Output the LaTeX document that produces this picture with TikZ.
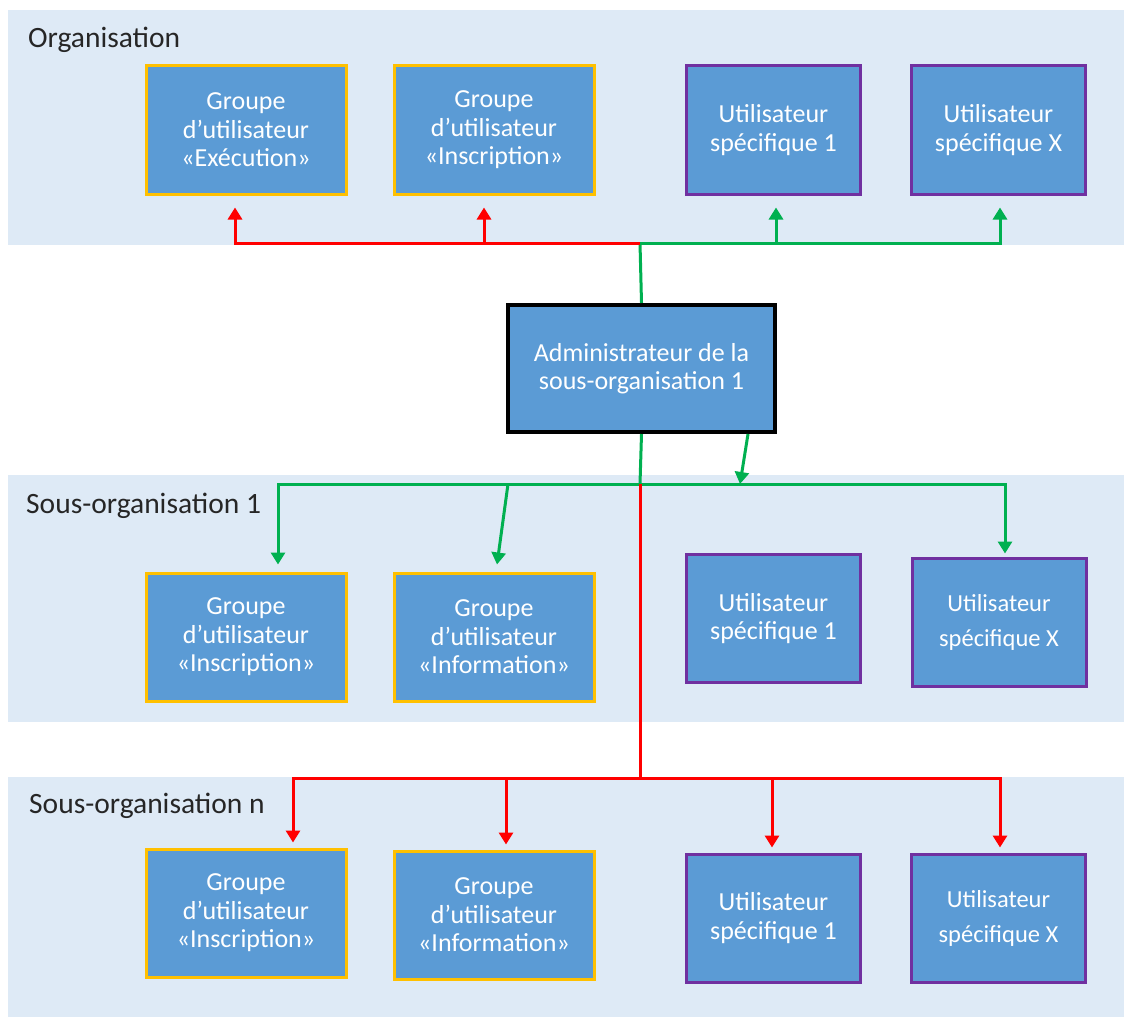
\documentclass[tikz,border=0pt]{standalone}
\usepackage{fontspec}
\setmainfont{Carlito}
\usetikzlibrary{arrows.meta}
\definecolor{panel}{HTML}{DEEAF6}
\definecolor{boxfill}{HTML}{5B9BD5}
\definecolor{ygold}{HTML}{FFC000}
\definecolor{purp}{HTML}{7030A0}
\definecolor{gcol}{HTML}{00B050}
\definecolor{rcol}{HTML}{FF0000}
\definecolor{labcol}{HTML}{262626}
\begin{document}
\begin{tikzpicture}[x=1pt,y=-1pt,
  bx/.style={draw, line width=3pt, fill=boxfill, text=white, align=center,
    font=\fontsize{26}{28.5}\selectfont, inner sep=0pt},
  grp/.style={bx, draw=ygold, minimum width=200pt, minimum height=128pt},
  usr/.style={bx, draw=purp, minimum width=174pt, minimum height=128pt},
  usrs/.style={usr, font=\fontsize{24.5}{35}\selectfont},
  adm/.style={bx, draw=black, line width=4pt, minimum width=267pt, minimum height=127pt},
  lab/.style={anchor=base west, text=labcol, font=\fontsize{29.5}{32}\selectfont, inner sep=0pt},
  gl/.style={draw=gcol, line width=3pt},
  rl/.style={draw=rcol, line width=3pt},
  garr/.style={gl, -{Triangle[width=14pt,length=12pt]}},
  rarr/.style={rl, -{Triangle[width=14pt,length=12pt]}}
]
\useasboundingbox (0,0) rectangle (1126,1019);
% panels
\fill[panel] (8,10) rectangle (1124,245);
\fill[panel] (8,475) rectangle (1124,722);
\fill[panel] (8,777) rectangle (1124,1017);
% labels
\node[lab] (l0) at (28,48) {Organisation};
\node[lab] (l1) at (26,513) {Sous-organisation 1};
\node[lab] (l2) at (29,813) {Sous-organisation n};
% top row
\node[grp] (e1) at (246,130) {Groupe\\d’utilisateur\\«Exécution»};
\node[grp] (i1) at (494,130) {Groupe\\d’utilisateur\\«Inscription»};
\node[usr] (u1) at (773.5,130) {Utilisateur\\spécifique 1};
\node[usr] (x1) at (998.5,130) {Utilisateur\\spécifique X};
% admin
\node[adm] (admin) at (641.5,368.5) {Administrateur de la\\sous-organisation 1};
% middle row
\node[grp] (s1a) at (246,637) {Groupe\\d’utilisateur\\«Inscription»};
\node[grp] (s1b) at (494,637) {Groupe\\d’utilisateur\\«Information»};
\node[usr] (s1u) at (773.5,618.5) {Utilisateur\\spécifique 1};
\node[usrs] (s1x) at (999,622) {Utilisateur\\spécifique X};
% bottom row
\node[grp] (na) at (246,913) {Groupe\\d’utilisateur\\«Inscription»};
\node[grp] (nb) at (494,915) {Groupe\\d’utilisateur\\«Information»};
\node[usr] (nu) at (773.5,918) {Utilisateur\\spécifique 1};
\node[usrs] (nx) at (998.5,918) {Utilisateur\\spécifique X};
% junctions
\coordinate (jt) at (640,243);
\coordinate (jb) at (640,484);
\coordinate (ja) at (740,484);
\coordinate (jc) at (508,484);
\coordinate (jn) at (640,778);
% top connectors
\draw[gl] (admin.north) -- (jt);
\draw[rarr, shorten >=12pt] (jt) -| ([xshift=-11pt]e1.south);
\draw[rarr, shorten >=12pt] (jt) -| ([xshift=-10pt]i1.south);
\draw[garr, shorten >=12pt] (jt) -| ([xshift=2.5pt]u1.south);
\draw[garr, shorten >=12pt] (jt) -| ([xshift=1.5pt]x1.south);
% middle connectors
\draw[gl] (admin.south) -- (jb);
\draw[garr] ([xshift=106.5pt]admin.south) -- (ja);
\draw[garr, shorten >=7pt] (jb) -| ([xshift=32pt]s1a.north);
\draw[garr] (jc) -- ([xshift=3pt,yshift=7pt]s1b.north);
\draw[garr, shorten >=3pt] (jb) -| ([xshift=6pt]s1x.north);
% red to bottom
\draw[rl] (jb) -- (jn);
\draw[rarr, shorten >=5pt] (jn) -| ([xshift=47pt]na.north);
\draw[rarr, shorten >=5pt] (jn) -| ([xshift=12pt]nb.north);
\draw[rarr, shorten >=5pt] (jn) -| ([xshift=-1.5pt]nu.north);
\draw[rarr, shorten >=5pt] (jn) -| ([xshift=1.5pt]nx.north);
\end{tikzpicture}
\end{document}
